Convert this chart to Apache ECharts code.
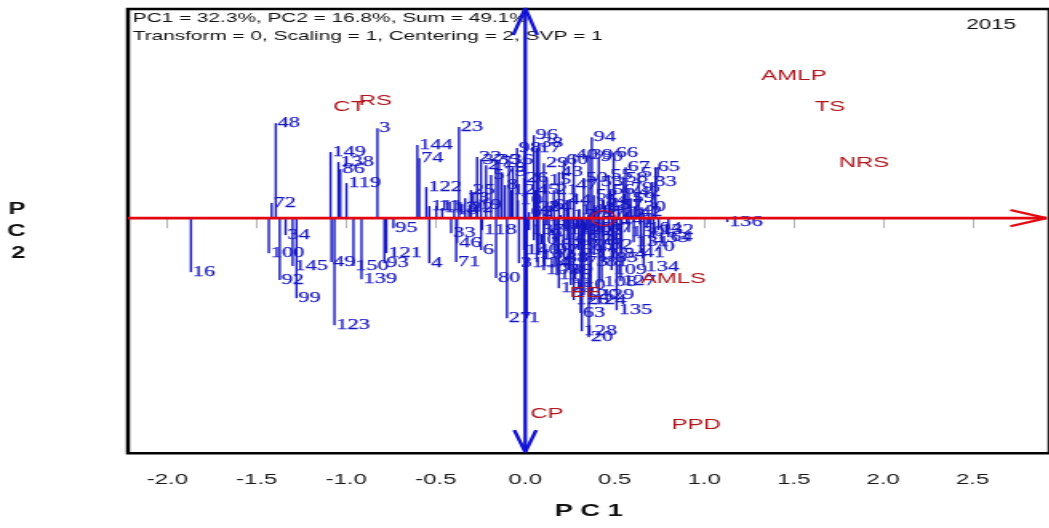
<!DOCTYPE html>
<html>
<head>
<meta charset="utf-8">
<script src="https://cdn.jsdelivr.net/npm/echarts@6/dist/echarts.min.js"></script>
<style>
  html, body { margin: 0; padding: 0; background: #fff; overflow: hidden; }
  /* the biplot is laid out at equal scale and then widened horizontally */
  #chart { width: 656px; height: 528px; transform: scaleX(1.6); transform-origin: 0 0; }
</style>
</head>
<body>
<div id="chart"></div>
<script>
// Genotype scores on the first two principal components
const genotypes = [
  '1','2','3','4','5','6','7','8','9','10','11','12','13','14','15','16','17','18','19','20',
  '21','22','23','24','25','26','27','28','29','30','31','32','33','34','35','36','37','38','39','40',
  '41','42','43','44','45','46','47','48','49','50','51','52','53','54','55','56','57','58','59','60',
  '61','62','63','64','65','66','67','68','69','70','71','72','73','74','75','76','77','78','79','80',
  '81','82','83','84','85','86','87','88','89','90','91','92','93','94','95','96','97','98','99','100',
  '101','102','103','104','105','106','107','108','109','110','111','112','113','114','115','116','117','118','119','120',
  '121','122','123','124','125','126','127','128','129','130','131','132','133','134','135','136','137','138','139','140',
  '141','142','143','144','145','146','147','148','149','150'
];
const pc1 = [
  0.009, -0.219, -0.826, -0.536, -0.191, -0.247, -0.147, -0.113, -0.069, -0.041,
  -0.497, -0.080, -0.336, 0.104, 0.121, -1.868, 0.065, -0.397, -0.269, 0.355,
  0.160, -0.269, -0.370, 0.121, -0.303, -0.007, -0.102, 0.065, 0.104, 0.650,
  -0.035, -0.314, -0.414, -1.339, -0.163, -0.091, -0.247, 0.076, 0.355, 0.271,
  0.645, 0.622, 0.188, 0.232, 0.054, -0.381, 0.271, -1.394, -1.083, 0.327,
  0.634, 0.383, 0.411, 0.438, 0.466, 0.477, 0.522, 0.550, 0.589, 0.216,
  0.143, 0.021, 0.310, 0.800, 0.728, 0.494, 0.561, 0.271, 0.299, 0.700,
  -0.386, -1.417, 0.327, -0.592, -0.130, 0.355, 0.383, 0.411, 0.578, -0.163,
  0.438, 0.466, 0.711, 0.539, 0.494, -1.033, 0.188, 0.216, 0.243, 0.411,
  0.132, -1.372, -0.787, 0.372, -0.737, 0.048, 0.160, -0.046, -1.278, -1.433,
  0.048, 0.076, 0.104, 0.678, 0.288, 0.344, 0.399, 0.427, 0.483, 0.255,
  -0.536, 0.232, -0.464, 0.065, 0.121, 0.177, 0.199, -0.241, -0.999, 0.327,
  -0.776, -0.553, -1.066, 0.366, 0.188, 0.271, 0.533, 0.316, 0.411, 0.578,
  0.606, 0.745, 0.717, 0.662, 0.511, 1.129, 0.021, -1.044, -0.915, -0.007,
  0.522, 0.567, 0.477, -0.603, -1.300, 0.299, 0.355, 0.388, -1.088, -0.960
];
const pc2 = [
  -0.557, 0.295, 0.501, -0.251, 0.240, -0.178, 0.312, 0.184, 0.279, 0.100,
  0.067, 0.156, 0.111, -0.251, 0.212, -0.301, 0.390, 0.045, 0.072, -0.663,
  0.156, 0.340, 0.507, 0.061, 0.156, 0.223, -0.557, 0.061, 0.306, 0.061,
  -0.251, 0.056, -0.084, -0.095, 0.323, 0.323, 0.323, 0.418, 0.351, 0.351,
  -0.195, 0.145, 0.256, 0.100, 0.156, -0.139, 0.184, 0.529, -0.245, 0.223,
  0.251, 0.128, 0.201, 0.100, 0.240, 0.156, 0.072, 0.223, 0.111, 0.323,
  0.072, 0.033, -0.529, -0.106, 0.284, 0.362, 0.284, -0.123, -0.178, -0.162,
  -0.245, 0.084, -0.245, 0.334, 0.256, -0.150, -0.206, -0.123, 0.167, -0.334,
  -0.245, -0.150, 0.201, -0.201, -0.223, 0.273, -0.150, -0.223, -0.290, 0.340,
  -0.095, -0.345, -0.251, 0.451, -0.056, 0.462, -0.178, 0.390, -0.446, -0.195,
  -0.123, -0.206, -0.290, -0.056, -0.056, -0.067, -0.056, -0.357, -0.290, -0.373,
  0.067, -0.067, 0.056, -0.245, -0.039, -0.318, 0.017, -0.067, 0.195, -0.429,
  -0.195, 0.173, -0.596, -0.457, -0.390, -0.457, -0.351, -0.630, -0.429, -0.078,
  -0.134, -0.067, -0.111, -0.273, -0.513, -0.022, -0.067, 0.312, -0.340, -0.178,
  -0.011, 0.033, 0.017, 0.407, -0.267, 0.045, 0.017, 0.072, 0.368, -0.267
];

// Environment (trait) scores
const environments = ['CT', 'RS', 'AMLP', 'TS', 'NRS', 'AMLS', 'EE', 'CP', 'PPD'];
const envPc1 = [-0.983, -0.838, 1.502, 1.703, 1.893, 0.828, 0.338, 0.121, 0.955];
const envPc2 = [0.618, 0.652, 0.791, 0.618, 0.306, -0.340, -0.418, -1.092, -1.153];

// Average-environment marker on the abscissa
const averageEnvironment = [0.438, 0];

// PC1 tick labels
const tickValues = [-2.0, -1.5, -1.0, -0.5, 0.0, 0.5, 1.0, 1.5, 2.0, 2.5];

const X_MIN = -2.22, X_MAX = 2.93;
const Y_MIN = -1.31, Y_MAX = 1.165;

const BLUE = '#1717c2';
const ARROW_BLUE = '#1212d6';
const RED = '#e3070f';
const ENV_RED = '#b0161d';

const chart = echarts.init(document.getElementById('chart'), null, { renderer: 'canvas' });

const option = {
  animation: false,
  backgroundColor: '#fff',
  grid: {
    left: 80, top: 9, width: 577.8, height: 444.3,
    show: true, borderColor: '#000', borderWidth: 2.5, backgroundColor: 'transparent'
  },
  xAxis: {
    type: 'value', min: X_MIN, max: X_MAX,
    axisLine: { show: false },
    axisTick: { show: true, customValues: tickValues, length: 10, lineStyle: { color: '#b5b5b5', width: 1 } },
    axisLabel: {
      customValues: tickValues,
      formatter: v => v.toFixed(1),
      fontFamily: 'Liberation Sans', fontSize: 15, color: '#1a1a1a', margin: 19
    },
    splitLine: { show: false },
    name: 'P C 1', nameLocation: 'middle', nameGap: 50,
    nameTextStyle: { fontFamily: 'Liberation Sans', fontWeight: 'bold', fontSize: 17, color: '#111' }
  },
  yAxis: {
    type: 'value', min: Y_MIN, max: Y_MAX,
    axisLine: { show: false }, axisTick: { show: false }, axisLabel: { show: false },
    splitLine: { show: false },
    name: 'P\nC\n2', nameLocation: 'middle', nameRotate: 0, nameGap: 64,
    nameTextStyle: { fontFamily: 'Liberation Sans', fontWeight: 'bold', fontSize: 16, lineHeight: 22, color: '#111' }
  },
  graphic: [
    {
      type: 'text', left: 83, top: 9, z: 0,
      style: {
        text: 'PC1 = 32.3%, PC2 = 16.8%, Sum = 49.1%\nTransform = 0, Scaling = 1, Centering = 2, SVP = 1',
        font: '13px "Liberation Sans"', lineHeight: 18, fill: '#111'
      }
    },
    {
      type: 'text', left: 604, top: 18, z: 0,
      style: { text: '2015', font: '14px "Liberation Sans"', fill: '#111' }
    }
  ],
  series: [
    {
      // genotype projections onto the PC1 axis, labelled at their ends
      type: 'custom', z: 2, clip: false,
      data: genotypes.map((g, i) => [pc1[i], pc2[i]]),
      encode: { x: 0, y: 1 },
      renderItem(params, api) {
        const x = api.value(0), y = api.value(1);
        const end = api.coord([x, y]);
        const base = api.coord([x, 0]);
        return {
          type: 'group',
          children: [
            { type: 'line', shape: { x1: base[0], y1: base[1], x2: end[0], y2: end[1] },
              style: { stroke: BLUE, lineWidth: 1.4 } },
            { type: 'text', x: end[0] + 1.2, y: end[1],
              style: { text: genotypes[params.dataIndex], fill: BLUE,
                       stroke: BLUE, lineWidth: 0.25,
                       font: '14px "Liberation Serif"', align: 'left', verticalAlign: 'middle' } }
          ]
        };
      }
    },
    {
      // PC1 axis through the origin
      type: 'line', z: 3, clip: false, symbol: 'none', silent: true,
      data: [[X_MIN, 0], [2.912, 0]],
      lineStyle: { color: RED, width: 2.6 }
    },
    {
      type: 'line', z: 3, clip: false, symbol: 'none', silent: true,
      data: [[2.711, 0.045], [2.912, 0], [2.711, -0.045]],
      lineStyle: { color: RED, width: 2.2 }
    },
    {
      // PC2 axis, double headed
      type: 'line', z: 4, clip: false, symbol: 'none', silent: true,
      data: [[0, -1.304], [0, 1.17]],
      lineStyle: { color: ARROW_BLUE, width: 2.3 }
    },
    {
      type: 'line', z: 4, clip: false, symbol: 'none', silent: true,
      data: [[-0.067, 1.02], [0, 1.17], [0.067, 1.02]],
      lineStyle: { color: ARROW_BLUE, width: 2.4 }
    },
    {
      type: 'line', z: 4, clip: false, symbol: 'none', silent: true,
      data: [[-0.061, -1.181], [0, -1.304], [0.061, -1.181]],
      lineStyle: { color: ARROW_BLUE, width: 2.4 }
    },
    {
      type: 'scatter', z: 5, silent: true,
      data: [averageEnvironment],
      symbol: 'circle', symbolSize: 15,
      itemStyle: { color: 'rgba(0,0,0,0)', borderColor: RED, borderWidth: 1.2 }
    },
    {
      // environment labels
      type: 'custom', z: 6, clip: false,
      data: environments.map((e, i) => [envPc1[i], envPc2[i]]),
      encode: { x: 0, y: 1 },
      renderItem(params, api) {
        const p = api.coord([api.value(0), api.value(1)]);
        return {
          type: 'text', x: p[0], y: p[1],
          style: { text: environments[params.dataIndex], fill: ENV_RED,
                   font: '15px "Liberation Sans"', align: 'center', verticalAlign: 'middle' }
        };
      }
    }
  ]
};

chart.setOption(option);
</script>
</body>
</html>
